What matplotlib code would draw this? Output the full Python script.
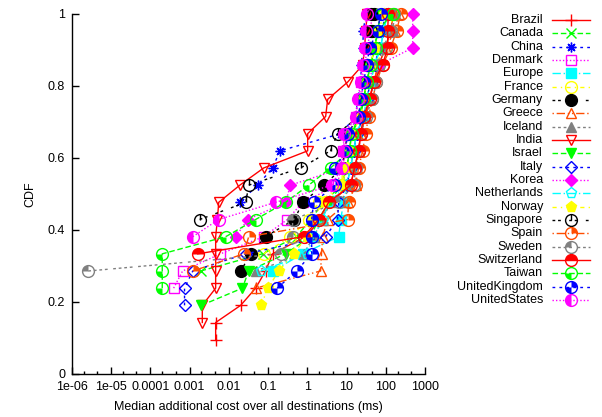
import numpy as np
import matplotlib
matplotlib.use("Agg")
import matplotlib.pyplot as plt
from matplotlib.path import Path
from matplotlib.lines import Line2D
from matplotlib.ticker import FixedLocator, NullFormatter

plt.rcParams['font.family'] = ['Liberation Sans', 'DejaVu Sans']

N_DEST = 21  # CDF levels are k / 21

# ---- data: first CDF rank and median additional cost (ms) for each rank ----
brazil_k0 = 2
brazil_x = [0.0046, 0.0046, 0.020, 0.048, 0.086, 0.13, 0.90, 2.2, 3.9, 12.7, 16, 20.3, 22.9, 30.6, 38.7, 49, 65.5, 99, 133, 158]
canada_k0 = 6
canada_x = [0.0019, 0.072, 0.53, 1.21, 2.6, 7.5, 10.1, 11.9, 13.4, 22.9, 27.2, 32.5, 41, 52, 62, 74]
china_k0 = 10
china_x = [0.019, 0.054, 0.13, 0.20, 7.1, 17, 19.2, 22.9, 24, 25.7, 27, 30.6]
denmark_k0 = 5
denmark_x = [0.00039, 0.00066, 0.0061, 0.077, 0.31, 0.76, 5.9, 7.0, 8.0, 9.5, 17, 20.3, 24, 29, 34, 40, 46]
europe_k0 = 6
europe_x = [0.13, 0.76, 6.3, 7.1, 8.4, 10.1, 12.7, 15.1, 18.1, 27.2, 32.5, 41, 52, 74, 88, 111]
france_k0 = 7
france_x = [0.077, 0.37, 1.08, 1.94, 7.5, 8.0, 11.9, 13.4, 22.9, 32.5, 41, 52, 99, 133, 150]
germany_k0 = 6
germany_x = [0.020, 0.036, 0.086, 0.47, 0.76, 2.6, 8.0, 8.9, 10.6, 20.3, 22.9, 27.2, 32.5, 38.7, 43.5, 49]
greece_k0 = 5
greece_x = [0.048, 2.18, 2.3, 2.46, 3.3, 10.6, 17, 18, 20.3, 22.9, 30.6, 38.7, 49, 65.5, 99, 170, 215]
iceland_k0 = 6
iceland_x = [0.048, 0.80, 1.45, 2.46, 3.9, 10.1, 12.7, 15.1, 18.1, 27.2, 38.7, 49, 65.5, 80, 150, 170]
india_k0 = 3
india_x = [0.0021, 0.0021, 0.0046, 0.0046, 0.0046, 0.0046, 0.0051, 0.0055, 0.019, 0.077, 1.02, 1.02, 2.93, 3.3, 10.6, 25.7, 29, 30.6, 34]
israel_k0 = 4
israel_x = [0.0020, 0.022, 0.032, 0.28, 1.21, 1.94, 3.5, 7.5, 10.1, 11.9, 13.4, 22.9, 27.2, 32.5, 41, 52, 62, 74]
italy_k0 = 4
italy_x = [0.00074, 0.00074, 0.0012, 0.027, 2.93, 5.9, 6.3, 10.1, 12.7, 15.1, 18.1, 27.2, 32.5, 41, 52, 68, 80, 100]
korea_k0 = 8
korea_x = [0.015, 0.030, 0.28, 0.37, 8.0, 8.9, 10.6, 20.3, 22.9, 27.2, 65.5, 486, 486, 486]
netherlands_k0 = 6
netherlands_x = [0.065, 0.97, 1.45, 2.46, 3.5, 10.1, 12.7, 15.1, 18.1, 27.2, 32.5, 41, 52, 74, 88, 111]
norway_k0 = 4
norway_x = [0.065, 0.10, 0.185, 0.45, 0.97, 1.29, 2.6, 7.5, 10.1, 11.9, 13.4, 22.9, 27.2, 32.5, 41, 52, 66, 90]
singapore_k0 = 9
singapore_x = [0.0018, 0.027, 0.032, 0.67, 3.9, 5.9, 20.3, 22.9, 27.2, 32.5, 38.7, 41, 41]
spain_k0 = 6
spain_x = [0.0012, 0.024, 0.032, 10.6, 11.3, 17, 20.3, 25.7, 30.6, 36.4, 45.8, 58, 83, 133, 190, 240]
sweden_k0 = 6
sweden_x = [2.6e-6, 0.21, 0.42, 0.42, 6.3, 15.1, 17, 20.3, 22.9, 30.6, 45.8, 58, 65.5, 99, 133, 158]
switzerland_k0 = 7
switzerland_x = [0.0016, 0.80, 1.94, 3.5, 12.7, 16, 20.3, 22.9, 27.2, 38.7, 49, 83, 111, 113, 115]
taiwan_k0 = 5
taiwan_x = [0.0002, 0.0002, 0.0002, 0.0083, 0.048, 0.28, 1.08, 3.9, 11.9, 13.4, 20.3, 27.2, 32.5, 41, 55, 62, 150]
uk_k0 = 5
uk_x = [0.17, 0.53, 1.29, 1.29, 1.29, 1.45, 5.2, 5.2, 9.5, 10.6, 20.3, 22.9, 27.2, 32.5, 38.7, 62, 74]
us_k0 = 8
us_x = [0.0012, 0.0055, 0.155, 4.2, 7.5, 8.4, 8.4, 17, 19.2, 22.9, 25.7, 29, 30.6, 32.5]

names = ["Brazil", "Canada", "China", "Denmark", "Europe", "France", "Germany", "Greece",
         "Iceland", "India", "Israel", "Italy", "Korea", "Netherlands", "Norway", "Singapore",
         "Spain", "Sweden", "Switzerland", "Taiwan", "UnitedKingdom", "UnitedStates"]
starts = [brazil_k0, canada_k0, china_k0, denmark_k0, europe_k0, france_k0, germany_k0, greece_k0,
          iceland_k0, india_k0, israel_k0, italy_k0, korea_k0, netherlands_k0, norway_k0, singapore_k0,
          spain_k0, sweden_k0, switzerland_k0, taiwan_k0, uk_k0, us_k0]
xs = [brazil_x, canada_x, china_x, denmark_x, europe_x, france_x, germany_x, greece_x,
      iceland_x, india_x, israel_x, italy_x, korea_x, netherlands_x, norway_x, singapore_x,
      spain_x, sweden_x, switzerland_x, taiwan_x, uk_x, us_x]

xtick_vals = [1e-6, 1e-5, 1e-4, 1e-3, 1e-2, 1e-1, 1, 10, 100, 1000]
xtick_labels = ["1e-06", "1e-05", "0.0001", "0.001", "0.01", "0.1", "1", "10", "100", "1000"]
ytick_vals = [0, 0.2, 0.4, 0.6, 0.8, 1]
ytick_labels = ["0", "0.2", "0.4", "0.6", "0.8", "1"]

# ---- styles (gnuplot postscript linetypes) ----
colors = ["#ff0000", "#00ff00", "#0000ff", "#ff00ff", "#00ffff", "#ffff00", "#000000", "#ff4d00", "#808080"]
dashes = [None, (4, 2), (2, 3), (1, 1.5), (6, 2, 1, 2), (3, 3, 1, 3), (2, 2, 2, 6),
          (1, 2, 6, 2, 1, 2), (2, 2, 2, 2, 2, 2, 2, 4)]


def wedge(*spans):
    verts, codes = [], []
    for a1, a2 in spans:
        t = np.radians(np.linspace(a1, a2, 16))
        verts += [(0, 0)] + list(zip(np.cos(t), np.sin(t))) + [(0, 0)]
        codes += [Path.MOVETO] + [Path.LINETO] * 16 + [Path.CLOSEPOLY]
    verts += [(-1, -1), (1, 1)]
    codes += [Path.MOVETO, Path.MOVETO]
    return Path(verts, codes)


clock = Path([(0, 0), (0, 1), (-1, -1), (1, 1)], [Path.MOVETO, Path.LINETO, Path.MOVETO, Path.MOVETO])

point_types = [
    ('+', False, None), ('x', False, None), ((8, 2, 0), False, None), ('s', False, None),
    ('s', True, None), ('o', False, None), ('o', True, None), ('^', False, None),
    ('^', True, None), ('v', False, None), ('v', True, None), ('D', False, None),
    ('D', True, None), ('p', False, None), ('p', True, None),
    ('o', False, ('line', clock)),
    ('o', False, ('fill', wedge((0, 90)))),
    ('o', False, ('fill', wedge((90, 180)))),
    ('o', False, ('fill', wedge((0, 180)))),
    ('o', False, ('fill', wedge((180, 270)))),
    ('o', False, ('fill', wedge((0, 90), (180, 270)))),
    ('o', False, ('fill', wedge((90, 270)))),
]
sizes = {'+': 8, 'x': 7, 's': 7, '^': 7.5, 'v': 7.5, 'D': 6.5, 'p': 8, 'o': 8.5}

W, H = 602, 417
fig = plt.figure(figsize=(W / 100, H / 100), dpi=100)
ax_l, ax_r, ax_t, ax_b = 72, 425, 13.5, 374
ax = fig.add_axes([ax_l / W, 1 - ax_b / H, (ax_r - ax_l) / W, (ax_b - ax_t) / H])


def style(i):
    c = colors[i % 9]
    d = dashes[i % 9]
    ls = '-' if d is None else (0, d)
    return c, ls


def draw(target, x, y, i, **kw):
    c, ls = style(i)
    mk, filled, over = point_types[i]
    key = mk if isinstance(mk, str) else 'x'
    ms = sizes.get(key, 8)
    arts = target.plot(x, y, color=c, linestyle=ls, linewidth=1.0, marker=mk, markersize=ms,
                       markerfacecolor=(c if filled else 'none'), markeredgecolor=c,
                       markeredgewidth=1.0, **kw)
    if over is not None:
        kind, p = over
        if kind == 'fill':
            arts += target.plot(x, y, linestyle='none', marker=p, markersize=ms,
                                markerfacecolor=c, markeredgecolor='none', markeredgewidth=0, **kw)
        else:
            arts += target.plot(x, y, linestyle='none', marker=p, markersize=ms,
                                markerfacecolor='none', markeredgecolor=c, markeredgewidth=1.0, **kw)
    return arts


for i, (nm, k0, x) in enumerate(zip(names, starts, xs)):
    k = np.arange(k0, k0 + len(x))
    y = k / N_DEST
    for a in draw(ax, x, y, i):
        a.set_zorder(2 + i * 0.01)
        a.set_clip_on(False)

ax.set_xscale('log')
ax.set_xlim(1e-6, 1000)
ax.set_ylim(0, 1)
ax.set_xticks(xtick_vals)
ax.set_xticklabels(xtick_labels)
ax.set_yticks(ytick_vals)
ax.set_yticklabels(ytick_labels)
minor = [d * m for d in xtick_vals[:-1] for m in (2, 4.4)]
ax.xaxis.set_minor_locator(FixedLocator(minor))
ax.xaxis.set_minor_formatter(NullFormatter())
ax.yaxis.set_minor_locator(FixedLocator([]))
for s in ('top', 'right'):
    ax.spines[s].set_visible(False)
for s in ('left', 'bottom'):
    ax.spines[s].set_linewidth(1.0)
ax.tick_params(which='major', direction='in', length=5, width=1, labelsize=9, pad=5,
               top=False, right=False)
ax.tick_params(which='minor', direction='in', length=2.5, width=1, top=False, right=False)
ax.set_xlabel("Median additional cost over all destinations (ms)", fontsize=9, labelpad=6)
ax.set_ylabel("CDF", fontsize=9, labelpad=8)

key_top = 20
key_step = 13.33
for i, nm in enumerate(names):
    yp = key_top + i * key_step
    fy = 1 - yp / H
    fig.text(543 / W, fy, nm, ha='right', va='center', fontsize=9)
    c, ls = style(i)
    fig.add_artist(Line2D([552 / W, 590 / W], [fy, fy], color=c, linestyle=ls, linewidth=1.0,
                          transform=fig.transFigure))
    mk, filled, over = point_types[i]
    key = mk if isinstance(mk, str) else 'x'
    ms = sizes.get(key, 8)
    fig.add_artist(Line2D([571 / W], [fy], linestyle='none', marker=mk, markersize=ms,
                          markerfacecolor=(c if filled else 'none'), markeredgecolor=c,
                          markeredgewidth=1.0, transform=fig.transFigure))
    if over is not None:
        kind, p = over
        if kind == 'fill':
            fig.add_artist(Line2D([571 / W], [fy], linestyle='none', marker=p, markersize=ms,
                                  markerfacecolor=c, markeredgecolor='none',
                                  transform=fig.transFigure))
        else:
            fig.add_artist(Line2D([571 / W], [fy], linestyle='none', marker=p, markersize=ms,
                                  markerfacecolor='none', markeredgecolor=c, markeredgewidth=1.0,
                                  transform=fig.transFigure))

fig.savefig("out.png", dpi=100)
